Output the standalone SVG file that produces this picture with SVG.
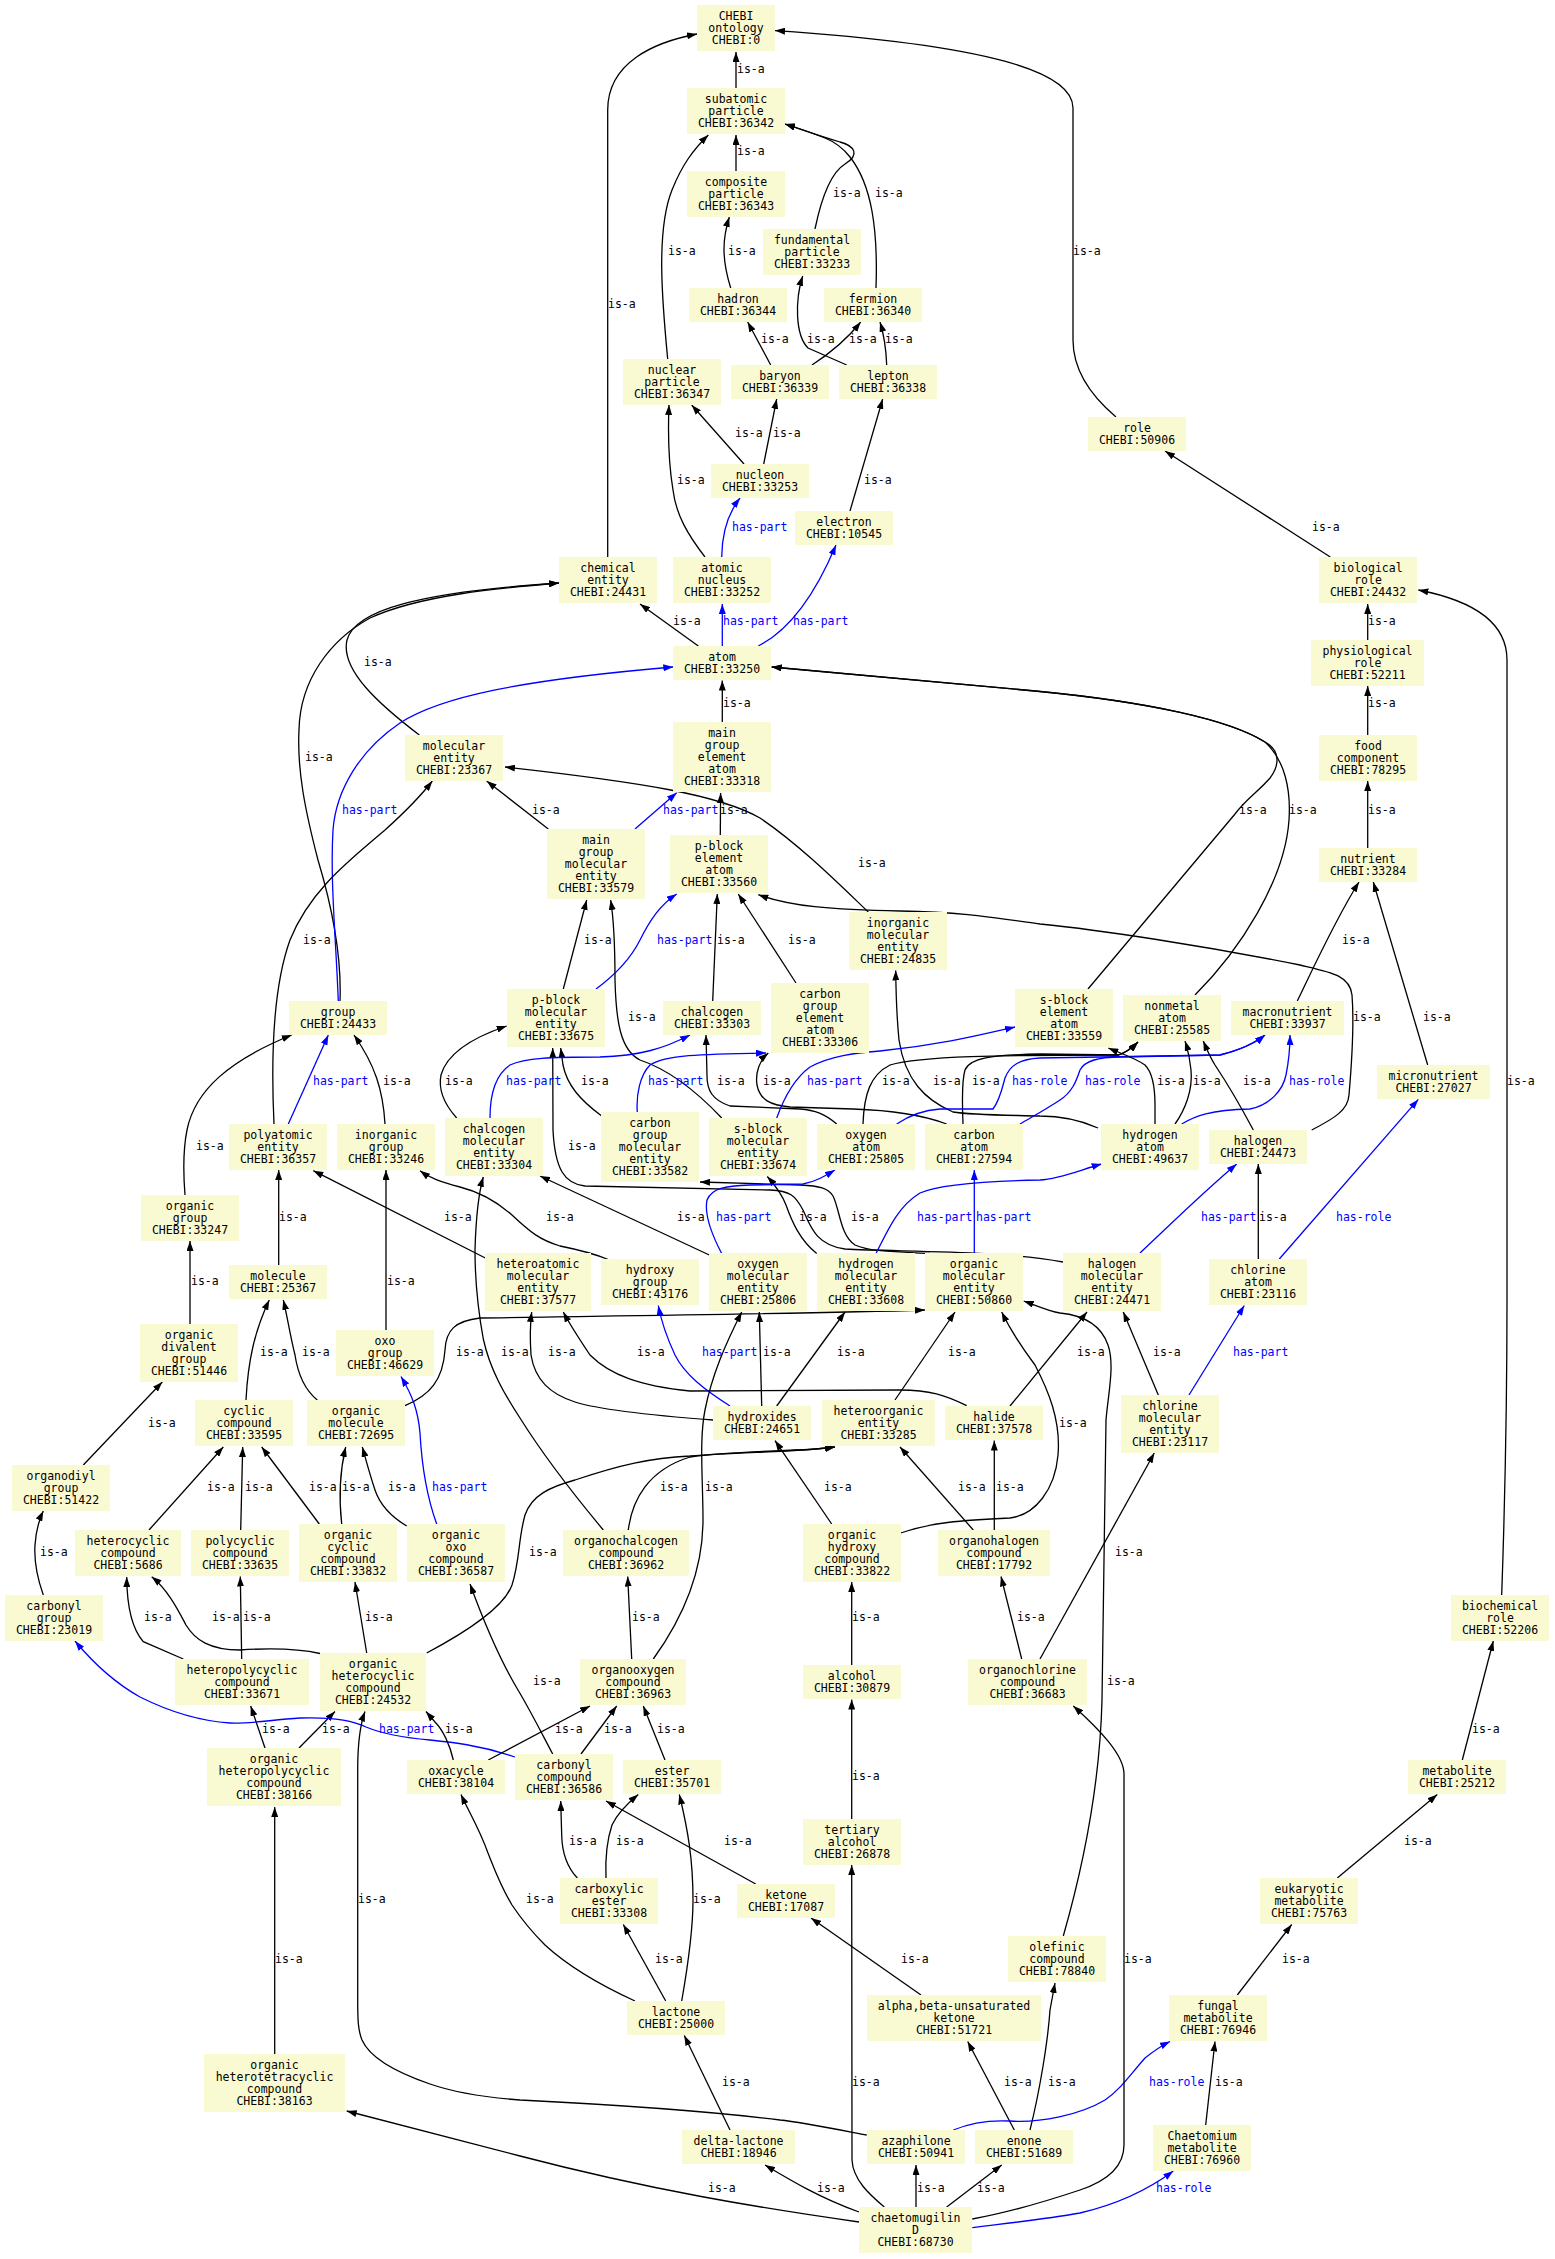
<svg xmlns="http://www.w3.org/2000/svg" width="1555" height="2259" viewBox="0 0 1555 2259">
<style>
.n rect{fill:#fafad2}
.n text{font-family:"DejaVu Sans Mono",monospace;font-size:11.5px;fill:#000;text-anchor:middle}
.e path{fill:none;stroke:#000;stroke-width:1.3;marker-end:url(#a)}
.e path.b{stroke:#00f;marker-end:url(#ab)}
.e text{font-family:"DejaVu Sans Mono",monospace;font-size:11.5px;fill:#000}
.e text.b{fill:#00f}
</style>
<defs>
<marker id="a" viewBox="0 0 10 7" refX="10" refY="3.5" markerWidth="10" markerHeight="7" markerUnits="userSpaceOnUse" orient="auto"><path d="M0,0L10,3.5L0,7z" fill="#000"/></marker>
<marker id="ab" viewBox="0 0 10 7" refX="10" refY="3.5" markerWidth="10" markerHeight="7" markerUnits="userSpaceOnUse" orient="auto"><path d="M0,0L10,3.5L0,7z" fill="#00f"/></marker>
</defs>
<rect width="1555" height="2259" fill="#fff"/>
<g id="connectors" class="e">
<path d="M736,88 L736,52"/>
<path d="M607.7,557 L607.7,110 C607.7,62 655,42 697,34"/>
<path d="M1116,417 C1090,395 1073,370 1073,340 L1073,108 C1073,72 990,45 775,30.6"/>
<path d="M736,171 L736,135"/>
<path d="M667.7,359 C662,300 656,230 672,190 C682,165 693,150 708.3,135"/>
<path d="M815,229 C822,195 832,172 845,164 C860,155 855,146 840,142 C820,136 800,129 785,124"/>
<path d="M876,288 C878,230 872,185 850,157 C843,148 835,142 825,138 C812,133 798,128 785,124"/>
<path d="M730.7,288 C722,260 722,240 729.3,217"/>
<path d="M770.7,365 L747.7,322"/>
<path d="M812,365 C835,350 848,338 860.7,322"/>
<path d="M846.7,365 L808,348 C795,335 795,300 802.7,276"/>
<path d="M886.7,365 C886,345 884,335 880,322"/>
<path d="M744,464 L691.7,405"/>
<path d="M763.7,464 L776.7,399"/>
<path d="M850,511 L882.7,399"/>
<path d="M705,557 C688,535 676,515 673,490 C668,460 668,430 669,405"/>
<path class="b" d="M721.7,557 C722,530 729,512 740,498"/>
<path class="b" d="M758.3,646 C790,630 815,595 836,545"/>
<path class="b" d="M722.3,646 L722.3,604"/>
<path d="M698.3,646 L640,604"/>
<path d="M1330.3,557 L1165,451"/>
<path d="M1367.7,640 L1367.7,604"/>
<path d="M1367.7,735 L1367.7,686"/>
<path d="M1367.7,848 L1367.7,781"/>
<path d="M1297.3,1001 C1310,975 1335,920 1359,882"/>
<path d="M1427.7,1065 L1373.3,882"/>
<path d="M419.3,735 C380,705 340,670 347,640 C355,610 420,592 559,583"/>
<path d="M340,1001 C342,950 330,900 318,860 C305,810 297,770 299,730 C300,680 330,640 370,618 C420,595 500,588 559,583"/>
<path class="b" d="M338.3,1001 C336,940 330,880 333,830 C336,790 360,750 400,723 C440,697 520,680 673.3,667"/>
<path d="M274,1124 C271,1060 272,990 290,940 C310,890 350,860 385,830 C405,812 420,797 432.3,781"/>
<path d="M548.3,829 L486.7,781"/>
<path d="M868.3,912 C840,885 800,845 760,818 C720,795 640,782 505,767"/>
<path d="M722.3,722 L722.3,680.5"/>
<path class="b" d="M635,829 L676.7,792.7"/>
<path d="M720.3,835 L720.6,793"/>
<path d="M1088,989 L1235,814 C1245,800 1260,790 1270,778 C1280,765 1280,750 1265,742 C1230,720 1150,702 1035,691 L771.7,667"/>
<path d="M1195,995 C1240,950 1285,880 1289,820 C1291,790 1285,760 1265,742 C1230,720 1150,702 1035,691 L771.7,667"/>
<path d="M563.3,989 L586.7,900"/>
<path class="b" d="M596,989 C615,975 630,960 640,940 C650,920 660,905 676.7,894"/>
<path d="M712.7,1001 L717.3,894"/>
<path d="M796,983 L738.3,894"/>
<path d="M721.7,1118 C700,1095 670,1070 640,1060 C620,1050 616,1020 615,980 C615,940 613,915 610.7,900"/>
<path d="M1311.7,1130 C1335,1118 1348,1110 1349,1095 C1352,1060 1354,1020 1352,995 C1350,975 1330,972 1300,965 C1200,945 1100,930 1040,924 C990,917 960,912 900,911 C830,910 790,906 758.3,894.7"/>
<path d="M1098,1128 C1080,1120 1060,1116 1040,1116 C1000,1115 970,1115 953,1112 C925,1100 905,1080 899,1040 C897,1020 896,995 895.7,970.5"/>
<path d="M601.7,1116 C580,1100 567,1085 563,1065 L560.7,1048"/>
<path d="M456.7,1118 C445,1105 438,1090 441,1075 C448,1050 480,1035 506.7,1026"/>
<path d="M1063,1262 C1000,1250 900,1252 845,1249 C815,1245 810,1225 803,1210 C795,1195 790,1191 770,1190 L585,1186 C565,1184 555,1170 553,1130 L552.7,1048"/>
<path d="M930,1253.5 C900,1252 870,1252 855,1245 C840,1235 840,1210 833,1196 C828,1188 820,1186 800,1185 L700,1182"/>
<path d="M816.7,1253.5 C800,1240 792,1222 786,1205 C781,1192 774,1184 767.3,1176.5"/>
<path class="b" d="M974.3,1253.5 L974.3,1170"/>
<path class="b" d="M876,1253.5 C890,1225 900,1205 920,1193 C940,1184 990,1181 1040,1180 C1060,1179 1080,1170 1101.7,1164"/>
<path d="M709.3,1255 L540,1176"/>
<path class="b" d="M721.7,1253.5 C712,1235 704,1215 707,1200 C712,1188 725,1186 750,1185 L803,1184 C815,1182 825,1176 835,1170"/>
<path d="M608.3,1259.5 C590,1252 575,1249 560,1246 C540,1240 530,1232 512,1215 C495,1200 480,1192 460,1187 C440,1182 430,1178 420,1170.7"/>
<path d="M485.3,1258 L313.3,1170.7"/>
<path d="M278.7,1265 L278.7,1170"/>
<path d="M185,1195 C183,1170 183,1150 187,1130 C195,1090 230,1060 291.7,1035"/>
<path class="b" d="M288.3,1124 L328.3,1035"/>
<path d="M385,1124 C383,1090 375,1065 354,1035"/>
<path d="M190,1324 L190,1241"/>
<path d="M386,1330 L386,1170"/>
<path d="M603.3,1530 C570,1490 540,1450 520,1418 C505,1395 490,1370 483.3,1339 C478,1310 475,1280 475,1250 C476,1215 478,1195 483.3,1177"/>
<path d="M405,1405.6 C430,1395 443,1380 445,1350 C446,1330 455,1321 480,1318 C600,1316 800,1314 925,1310"/>
<path d="M713.3,1420 C660,1416 600,1410 575,1402 C550,1394 535,1380 531,1355 C530,1340 530,1325 531.7,1312"/>
<path d="M966.7,1405.6 C945,1395 930,1390 900,1390 L690,1391 C640,1386 610,1375 590,1355 C580,1340 570,1325 563.3,1312"/>
<path class="b" d="M730,1406 C705,1390 685,1375 675,1355 C668,1340 662,1325 658.3,1305.5"/>
<path d="M761.7,1406 L759.3,1312"/>
<path d="M776.7,1406 L845,1312"/>
<path d="M895,1400 L955,1312"/>
<path d="M653.3,1659 C685,1615 703,1570 703,1520 C703,1480 699,1440 705,1410 C712,1375 725,1345 741.7,1312"/>
<path d="M900.7,1533 C930,1523 960,1520 1010,1518 C1035,1515 1055,1490 1058,1455 C1061,1420 1048,1390 1035,1365 C1020,1345 1008,1325 1001.7,1312"/>
<path d="M1010,1406 L1087,1312"/>
<path d="M1063.3,1936 C1085,1860 1100,1780 1102,1700 L1106,1420 C1108,1395 1115,1365 1108,1345 C1100,1322 1080,1315 1060,1313 C1048,1311 1035,1305 1023.7,1301"/>
<path d="M1158.3,1395 L1123.3,1312"/>
<path class="b" d="M1189,1395 L1244.3,1305.5"/>
<path d="M1040,1659 L1154.3,1453"/>
<path d="M1258.3,1259 L1258.3,1164"/>
<path class="b" d="M1279.3,1259 L1418.3,1099.4"/>
<path class="b" d="M1140,1253 C1170,1225 1200,1195 1236.7,1164"/>
<path class="b" d="M436.7,1524 C428,1500 422,1470 420,1433 C418,1410 412,1395 401,1376.5"/>
<path d="M246,1400 C248,1360 255,1330 269.3,1300"/>
<path d="M317.3,1400 C305,1390 298,1375 295,1355 C290,1335 287,1315 283.3,1300"/>
<path d="M83.3,1465 L162.3,1382"/>
<path d="M149,1530 L223.3,1447"/>
<path d="M240.7,1530 L242.7,1447"/>
<path d="M319.3,1524 L261.7,1447"/>
<path d="M341.7,1524 C339,1500 339,1475 345.7,1447"/>
<path d="M406.7,1526 C390,1516 380,1505 375,1490 C370,1475 366,1460 362.3,1447"/>
<path d="M628.3,1530 C632,1500 648,1470 690,1457 C740,1450 800,1452 835,1447"/>
<path d="M426.7,1653 C470,1630 505,1605 512,1585 C520,1560 518,1540 525,1515 C532,1495 550,1487 575,1480 C620,1465 650,1458 690,1456 C740,1452 800,1452 835,1447"/>
<path d="M831.7,1524 L775,1440.6"/>
<path d="M973.3,1530 L900,1447"/>
<path d="M994.3,1530 L994.3,1440.6"/>
<path d="M43.3,1595 C38,1580 34,1560 35,1545 C36,1530 39,1520 43.3,1511"/>
<path d="M183.3,1659 L143.3,1641.7 C133,1630 127,1610 126.7,1577"/>
<path d="M241.7,1659 L240.3,1576.5"/>
<path d="M320,1653.5 C300,1649 270,1648 240,1650 C210,1650 195,1640 186,1625 C178,1610 168,1590 151.7,1576.8"/>
<path d="M366.7,1653 L355,1582"/>
<path d="M631.7,1659 L627.7,1576.5"/>
<path d="M851.7,1665 L851.7,1582"/>
<path d="M1021.7,1659 L1001,1576.5"/>
<path d="M552.7,1754 C540,1730 530,1710 518,1690 C500,1660 485,1625 470,1584"/>
<path d="M265,1748 L250.7,1706"/>
<path d="M299,1748 L335,1711.5"/>
<path d="M274.7,2054 L274.7,1807"/>
<path class="b" d="M515,1757 C480,1745 450,1742 430,1740 C395,1737 378,1732 366,1727 C352,1720 330,1717 300,1718 C270,1720 250,1724 230,1723 C200,1721 170,1712 140,1697 C115,1683 95,1665 75,1641"/>
<path d="M453.3,1760 C450,1745 443,1730 435,1722 L426,1711.5"/>
<path d="M488.3,1760 L590,1706"/>
<path d="M581,1754 L616.7,1706"/>
<path d="M665,1760 L643.3,1706"/>
<path d="M577.3,1878 C565,1865 562,1850 561.7,1835 L560.7,1801"/>
<path d="M606,1878 C605,1855 607,1840 612,1825 C618,1812 628,1803 638.3,1794.5"/>
<path d="M755.7,1884 L606,1801"/>
<path d="M635,2001 C600,1985 570,1968 545,1945 C530,1930 522,1920 512,1905 C500,1885 494,1868 488,1853 C480,1830 468,1810 461,1794.5"/>
<path d="M665.7,2001 L623.3,1924.5"/>
<path d="M681.7,2001 C688,1965 693,1930 693,1900 C693,1860 688,1830 679.3,1794.5"/>
<path d="M851.7,1819 L851.7,1699.5"/>
<path d="M921,1995 L811,1918"/>
<path d="M730,2130 L684.3,2035.5"/>
<path d="M884.3,2207 C870,2195 853,2180 852,2160 L851.7,1865"/>
<path d="M1014.3,2130 L967.7,2041.5"/>
<path d="M1030,2130 C1040,2090 1048,2040 1050,2010 L1055,1983"/>
<path d="M866.7,2135 C830,2128 800,2122 780,2120 C700,2110 600,2104 520,2100 C480,2097 450,2091 430,2084 C395,2072 370,2058 362,2040 C358,2030 357.7,2020 357.7,2000 L357.7,1770 C357.7,1745 360,1725 365,1711.5"/>
<path d="M859,2222 C760,2208 650,2190 520,2156 L346.7,2111"/>
<path d="M859,2212 C820,2198 790,2180 765,2165"/>
<path d="M916,2207 L916,2165"/>
<path d="M946.7,2207 L1001.7,2165"/>
<path class="b" d="M953.3,2130 C970,2123 990,2120 1010,2121 C1040,2123 1080,2115 1105,2100 C1120,2090 1130,2075 1145,2058 C1155,2050 1163,2045 1170,2041.5"/>
<path d="M1205.7,2125 L1215,2041.5"/>
<path class="b" d="M972.3,2227.6 C1000,2224 1040,2220 1080,2213 C1110,2206 1145,2192 1173.3,2171"/>
<path d="M972.3,2219 C1000,2214 1035,2205 1080,2190 C1110,2180 1124,2165 1124,2145 L1124,1774 C1124,1755 1100,1730 1073.3,1706"/>
<path d="M1237.3,1995 L1291.7,1924.5"/>
<path d="M1337.3,1878 L1437.3,1794.5"/>
<path d="M1462.3,1760 L1493.3,1641"/>
<path d="M1501.7,1595 C1505,1500 1507,1400 1507,1300 L1507,660 C1507,620 1470,600 1418.3,590"/>
<path d="M836.7,1124 C825,1114 815,1110 800,1109 L730,1106 C712,1100 707,1090 707,1076 L706,1035"/>
<path d="M946.7,1124 C920,1114 885,1110 853,1109 L790,1107 C770,1105 760,1100 757,1085 C755,1072 760,1060 768.3,1053"/>
<path class="b" d="M637.3,1112 C636,1095 640,1075 650,1065 C665,1055 700,1054 766,1053"/>
<path class="b" d="M490,1118 C490,1095 495,1075 510,1065 C525,1058 550,1057 600,1057 C640,1056 665,1048 690,1035"/>
<path class="b" d="M776.7,1118 C785,1095 795,1078 810,1067 C830,1056 855,1053 880,1051 C940,1045 980,1035 1015,1027"/>
<path d="M863,1124 C864,1095 870,1075 890,1065 C920,1056 1000,1055 1118,1055 C1125,1053 1132,1048 1138,1042"/>
<path d="M963,1124 C962,1100 962,1080 965,1070 C970,1058 990,1055 1040,1054 L1118,1055 C1125,1053 1132,1048 1138,1042"/>
<path class="b" d="M896.7,1124 C910,1115 925,1110 940,1109 L993,1109 C1000,1100 1003,1085 1005,1078 C1010,1065 1020,1059 1040,1058 L1220,1055 C1240,1050 1255,1043 1265,1035"/>
<path class="b" d="M1020,1124 C1030,1118 1045,1110 1060,1100 C1072,1092 1076,1082 1080,1070 C1085,1060 1100,1057 1120,1057 L1220,1055 C1240,1050 1255,1043 1265,1035"/>
<path class="b" d="M1181.7,1124 C1195,1116 1210,1110 1250,1109 C1270,1105 1283,1090 1286,1075 C1289,1060 1290,1048 1290,1035"/>
<path d="M1175,1124 C1185,1110 1193,1090 1191,1070 C1190,1058 1188,1050 1185,1041"/>
<path d="M1155,1124 L1155,1105 C1155,1085 1152,1072 1145,1065 C1135,1058 1120,1053 1108.3,1048"/>
<path d="M1253.3,1130 C1240,1105 1225,1080 1215,1065 C1210,1057 1207,1050 1203.3,1041"/>
<g id="edge-labels">
<text x="737" y="73">is-a</text>
<text x="608" y="308">is-a</text>
<text x="1073" y="255">is-a</text>
<text x="737" y="155">is-a</text>
<text x="668" y="255">is-a</text>
<text x="833" y="197">is-a</text>
<text x="875" y="197">is-a</text>
<text x="728" y="255">is-a</text>
<text x="761" y="343">is-a</text>
<text x="849" y="343">is-a</text>
<text x="807" y="343">is-a</text>
<text x="885" y="343">is-a</text>
<text x="735" y="437">is-a</text>
<text x="773" y="437">is-a</text>
<text x="864" y="484">is-a</text>
<text x="677" y="484">is-a</text>
<text class="b" x="732" y="531">has-part</text>
<text class="b" x="793" y="625">has-part</text>
<text class="b" x="723" y="625">has-part</text>
<text x="673" y="625">is-a</text>
<text x="1312" y="531">is-a</text>
<text x="1368" y="625">is-a</text>
<text x="1368" y="707">is-a</text>
<text x="1368" y="814">is-a</text>
<text x="1342" y="944">is-a</text>
<text x="1423" y="1021">is-a</text>
<text x="364" y="666">is-a</text>
<text x="305" y="761">is-a</text>
<text class="b" x="342" y="814">has-part</text>
<text x="303" y="944">is-a</text>
<text x="532" y="814">is-a</text>
<text x="858" y="867">is-a</text>
<text x="723" y="707">is-a</text>
<text class="b" x="663" y="814">has-part</text>
<text x="720" y="814">is-a</text>
<text x="1239" y="814">is-a</text>
<text x="1289" y="814">is-a</text>
<text x="584" y="944">is-a</text>
<text class="b" x="657" y="944">has-part</text>
<text x="717" y="944">is-a</text>
<text x="788" y="944">is-a</text>
<text x="628" y="1021">is-a</text>
<text x="1353" y="1021">is-a</text>
<text x="933" y="1085">is-a</text>
<text x="581" y="1085">is-a</text>
<text x="445" y="1085">is-a</text>
<text x="568" y="1150">is-a</text>
<text x="851" y="1221">is-a</text>
<text x="799" y="1221">is-a</text>
<text class="b" x="976" y="1221">has-part</text>
<text class="b" x="917" y="1221">has-part</text>
<text x="677" y="1221">is-a</text>
<text class="b" x="716" y="1221">has-part</text>
<text x="546" y="1221">is-a</text>
<text x="444" y="1221">is-a</text>
<text x="279" y="1221">is-a</text>
<text x="196" y="1150">is-a</text>
<text class="b" x="313" y="1085">has-part</text>
<text x="383" y="1085">is-a</text>
<text x="191" y="1285">is-a</text>
<text x="387" y="1285">is-a</text>
<text x="501" y="1356">is-a</text>
<text x="456" y="1356">is-a</text>
<text x="548" y="1356">is-a</text>
<text x="637" y="1356">is-a</text>
<text class="b" x="702" y="1356">has-part</text>
<text x="763" y="1356">is-a</text>
<text x="837" y="1356">is-a</text>
<text x="948" y="1356">is-a</text>
<text x="705" y="1491">is-a</text>
<text x="1059" y="1427">is-a</text>
<text x="1077" y="1356">is-a</text>
<text x="1107" y="1685">is-a</text>
<text x="1153" y="1356">is-a</text>
<text class="b" x="1233" y="1356">has-part</text>
<text x="1115" y="1556">is-a</text>
<text x="1259" y="1221">is-a</text>
<text class="b" x="1336" y="1221">has-role</text>
<text class="b" x="1201" y="1221">has-part</text>
<text class="b" x="432" y="1491">has-part</text>
<text x="260" y="1356">is-a</text>
<text x="302" y="1356">is-a</text>
<text x="148" y="1427">is-a</text>
<text x="207" y="1491">is-a</text>
<text x="245" y="1491">is-a</text>
<text x="309" y="1491">is-a</text>
<text x="342" y="1491">is-a</text>
<text x="388" y="1491">is-a</text>
<text x="660" y="1491">is-a</text>
<text x="529" y="1556">is-a</text>
<text x="824" y="1491">is-a</text>
<text x="958" y="1491">is-a</text>
<text x="996" y="1491">is-a</text>
<text x="40" y="1556">is-a</text>
<text x="144" y="1621">is-a</text>
<text x="243" y="1621">is-a</text>
<text x="212" y="1621">is-a</text>
<text x="365" y="1621">is-a</text>
<text x="632" y="1621">is-a</text>
<text x="852" y="1621">is-a</text>
<text x="1017" y="1621">is-a</text>
<text x="533" y="1685">is-a</text>
<text x="262" y="1733">is-a</text>
<text x="322" y="1733">is-a</text>
<text x="275" y="1963">is-a</text>
<text class="b" x="379" y="1733">has-part</text>
<text x="445" y="1733">is-a</text>
<text x="555" y="1733">is-a</text>
<text x="604" y="1733">is-a</text>
<text x="657" y="1733">is-a</text>
<text x="569" y="1845">is-a</text>
<text x="616" y="1845">is-a</text>
<text x="724" y="1845">is-a</text>
<text x="526" y="1903">is-a</text>
<text x="655" y="1963">is-a</text>
<text x="693" y="1903">is-a</text>
<text x="852" y="1780">is-a</text>
<text x="901" y="1963">is-a</text>
<text x="722" y="2086">is-a</text>
<text x="852" y="2086">is-a</text>
<text x="1004" y="2086">is-a</text>
<text x="1048" y="2086">is-a</text>
<text x="358" y="1903">is-a</text>
<text x="708" y="2192">is-a</text>
<text x="817" y="2192">is-a</text>
<text x="917" y="2192">is-a</text>
<text x="977" y="2192">is-a</text>
<text class="b" x="1149" y="2086">has-role</text>
<text x="1215" y="2086">is-a</text>
<text class="b" x="1156" y="2192">has-role</text>
<text x="1124" y="1963">is-a</text>
<text x="1282" y="1963">is-a</text>
<text x="1404" y="1845">is-a</text>
<text x="1472" y="1733">is-a</text>
<text x="1507" y="1085">is-a</text>
<text x="717" y="1085">is-a</text>
<text x="763" y="1085">is-a</text>
<text class="b" x="648" y="1085">has-part</text>
<text class="b" x="506" y="1085">has-part</text>
<text class="b" x="807" y="1085">has-part</text>
<text x="882" y="1085">is-a</text>
<text x="972" y="1085">is-a</text>
<text class="b" x="1012" y="1085">has-role</text>
<text class="b" x="1085" y="1085">has-role</text>
<text class="b" x="1289" y="1085">has-role</text>
<text x="1193" y="1085">is-a</text>
<text x="1157" y="1085">is-a</text>
<text x="1243" y="1085">is-a</text>
</g>
</g>
<g id="nodes">
<g id="n-0" class="n"><rect x="697" y="5" width="78" height="46"/><text><tspan x="736" y="20">CHEBI</tspan><tspan x="736" y="32">ontology</tspan><tspan x="736" y="44">CHEBI:0</tspan></text></g>
<g id="n-36342" class="n"><rect x="687" y="88" width="98" height="46"/><text><tspan x="736" y="103">subatomic</tspan><tspan x="736" y="115">particle</tspan><tspan x="736" y="127">CHEBI:36342</tspan></text></g>
<g id="n-36343" class="n"><rect x="687" y="171" width="98" height="46"/><text><tspan x="736" y="186">composite</tspan><tspan x="736" y="198">particle</tspan><tspan x="736" y="210">CHEBI:36343</tspan></text></g>
<g id="n-33233" class="n"><rect x="763" y="229" width="98" height="46"/><text><tspan x="812" y="244">fundamental</tspan><tspan x="812" y="256">particle</tspan><tspan x="812" y="268">CHEBI:33233</tspan></text></g>
<g id="n-36344" class="n"><rect x="689" y="288" width="98" height="34"/><text><tspan x="738" y="303">hadron</tspan><tspan x="738" y="315">CHEBI:36344</tspan></text></g>
<g id="n-36340" class="n"><rect x="824" y="288" width="98" height="34"/><text><tspan x="873" y="303">fermion</tspan><tspan x="873" y="315">CHEBI:36340</tspan></text></g>
<g id="n-36347" class="n"><rect x="623" y="359" width="98" height="46"/><text><tspan x="672" y="374">nuclear</tspan><tspan x="672" y="386">particle</tspan><tspan x="672" y="398">CHEBI:36347</tspan></text></g>
<g id="n-36339" class="n"><rect x="731" y="365" width="98" height="34"/><text><tspan x="780" y="380">baryon</tspan><tspan x="780" y="392">CHEBI:36339</tspan></text></g>
<g id="n-36338" class="n"><rect x="839" y="365" width="98" height="34"/><text><tspan x="888" y="380">lepton</tspan><tspan x="888" y="392">CHEBI:36338</tspan></text></g>
<g id="n-50906" class="n"><rect x="1088" y="417" width="98" height="34"/><text><tspan x="1137" y="432">role</tspan><tspan x="1137" y="444">CHEBI:50906</tspan></text></g>
<g id="n-33253" class="n"><rect x="711" y="464" width="98" height="34"/><text><tspan x="760" y="479">nucleon</tspan><tspan x="760" y="491">CHEBI:33253</tspan></text></g>
<g id="n-10545" class="n"><rect x="795" y="511" width="98" height="34"/><text><tspan x="844" y="526">electron</tspan><tspan x="844" y="538">CHEBI:10545</tspan></text></g>
<g id="n-24431" class="n"><rect x="559" y="557" width="98" height="46"/><text><tspan x="608" y="572">chemical</tspan><tspan x="608" y="584">entity</tspan><tspan x="608" y="596">CHEBI:24431</tspan></text></g>
<g id="n-33252" class="n"><rect x="673" y="557" width="98" height="46"/><text><tspan x="722" y="572">atomic</tspan><tspan x="722" y="584">nucleus</tspan><tspan x="722" y="596">CHEBI:33252</tspan></text></g>
<g id="n-24432" class="n"><rect x="1319" y="557" width="98" height="46"/><text><tspan x="1368" y="572">biological</tspan><tspan x="1368" y="584">role</tspan><tspan x="1368" y="596">CHEBI:24432</tspan></text></g>
<g id="n-33250" class="n"><rect x="673" y="646" width="98" height="34"/><text><tspan x="722" y="661">atom</tspan><tspan x="722" y="673">CHEBI:33250</tspan></text></g>
<g id="n-52211" class="n"><rect x="1311" y="640" width="113" height="46"/><text><tspan x="1367.5" y="655">physiological</tspan><tspan x="1367.5" y="667">role</tspan><tspan x="1367.5" y="679">CHEBI:52211</tspan></text></g>
<g id="n-23367" class="n"><rect x="405" y="735" width="98" height="46"/><text><tspan x="454" y="750">molecular</tspan><tspan x="454" y="762">entity</tspan><tspan x="454" y="774">CHEBI:23367</tspan></text></g>
<g id="n-33318" class="n"><rect x="673" y="722" width="98" height="70"/><text><tspan x="722" y="737">main</tspan><tspan x="722" y="749">group</tspan><tspan x="722" y="761">element</tspan><tspan x="722" y="773">atom</tspan><tspan x="722" y="785">CHEBI:33318</tspan></text></g>
<g id="n-78295" class="n"><rect x="1319" y="735" width="98" height="46"/><text><tspan x="1368" y="750">food</tspan><tspan x="1368" y="762">component</tspan><tspan x="1368" y="774">CHEBI:78295</tspan></text></g>
<g id="n-33579" class="n"><rect x="547" y="829" width="98" height="70"/><text><tspan x="596" y="844">main</tspan><tspan x="596" y="856">group</tspan><tspan x="596" y="868">molecular</tspan><tspan x="596" y="880">entity</tspan><tspan x="596" y="892">CHEBI:33579</tspan></text></g>
<g id="n-33560" class="n"><rect x="670" y="835" width="98" height="58"/><text><tspan x="719" y="850">p-block</tspan><tspan x="719" y="862">element</tspan><tspan x="719" y="874">atom</tspan><tspan x="719" y="886">CHEBI:33560</tspan></text></g>
<g id="n-33284" class="n"><rect x="1319" y="848" width="98" height="34"/><text><tspan x="1368" y="863">nutrient</tspan><tspan x="1368" y="875">CHEBI:33284</tspan></text></g>
<g id="n-24835" class="n"><rect x="849" y="912" width="98" height="58"/><text><tspan x="898" y="927">inorganic</tspan><tspan x="898" y="939">molecular</tspan><tspan x="898" y="951">entity</tspan><tspan x="898" y="963">CHEBI:24835</tspan></text></g>
<g id="n-24433" class="n"><rect x="289" y="1001" width="98" height="34"/><text><tspan x="338" y="1016">group</tspan><tspan x="338" y="1028">CHEBI:24433</tspan></text></g>
<g id="n-33675" class="n"><rect x="507" y="989" width="98" height="58"/><text><tspan x="556" y="1004">p-block</tspan><tspan x="556" y="1016">molecular</tspan><tspan x="556" y="1028">entity</tspan><tspan x="556" y="1040">CHEBI:33675</tspan></text></g>
<g id="n-33303" class="n"><rect x="663" y="1001" width="98" height="34"/><text><tspan x="712" y="1016">chalcogen</tspan><tspan x="712" y="1028">CHEBI:33303</tspan></text></g>
<g id="n-33306" class="n"><rect x="771" y="983" width="98" height="70"/><text><tspan x="820" y="998">carbon</tspan><tspan x="820" y="1010">group</tspan><tspan x="820" y="1022">element</tspan><tspan x="820" y="1034">atom</tspan><tspan x="820" y="1046">CHEBI:33306</tspan></text></g>
<g id="n-33559" class="n"><rect x="1015" y="989" width="98" height="58"/><text><tspan x="1064" y="1004">s-block</tspan><tspan x="1064" y="1016">element</tspan><tspan x="1064" y="1028">atom</tspan><tspan x="1064" y="1040">CHEBI:33559</tspan></text></g>
<g id="n-25585" class="n"><rect x="1123" y="995" width="98" height="46"/><text><tspan x="1172" y="1010">nonmetal</tspan><tspan x="1172" y="1022">atom</tspan><tspan x="1172" y="1034">CHEBI:25585</tspan></text></g>
<g id="n-33937" class="n"><rect x="1231" y="1001" width="113" height="34"/><text><tspan x="1287.5" y="1016">macronutrient</tspan><tspan x="1287.5" y="1028">CHEBI:33937</tspan></text></g>
<g id="n-27027" class="n"><rect x="1377" y="1065" width="113" height="34"/><text><tspan x="1433.5" y="1080">micronutrient</tspan><tspan x="1433.5" y="1092">CHEBI:27027</tspan></text></g>
<g id="n-36357" class="n"><rect x="229" y="1124" width="98" height="46"/><text><tspan x="278" y="1139">polyatomic</tspan><tspan x="278" y="1151">entity</tspan><tspan x="278" y="1163">CHEBI:36357</tspan></text></g>
<g id="n-33246" class="n"><rect x="337" y="1124" width="98" height="46"/><text><tspan x="386" y="1139">inorganic</tspan><tspan x="386" y="1151">group</tspan><tspan x="386" y="1163">CHEBI:33246</tspan></text></g>
<g id="n-33304" class="n"><rect x="445" y="1118" width="98" height="58"/><text><tspan x="494" y="1133">chalcogen</tspan><tspan x="494" y="1145">molecular</tspan><tspan x="494" y="1157">entity</tspan><tspan x="494" y="1169">CHEBI:33304</tspan></text></g>
<g id="n-33582" class="n"><rect x="601" y="1112" width="98" height="70"/><text><tspan x="650" y="1127">carbon</tspan><tspan x="650" y="1139">group</tspan><tspan x="650" y="1151">molecular</tspan><tspan x="650" y="1163">entity</tspan><tspan x="650" y="1175">CHEBI:33582</tspan></text></g>
<g id="n-33674" class="n"><rect x="709" y="1118" width="98" height="58"/><text><tspan x="758" y="1133">s-block</tspan><tspan x="758" y="1145">molecular</tspan><tspan x="758" y="1157">entity</tspan><tspan x="758" y="1169">CHEBI:33674</tspan></text></g>
<g id="n-25805" class="n"><rect x="817" y="1124" width="98" height="46"/><text><tspan x="866" y="1139">oxygen</tspan><tspan x="866" y="1151">atom</tspan><tspan x="866" y="1163">CHEBI:25805</tspan></text></g>
<g id="n-27594" class="n"><rect x="925" y="1124" width="98" height="46"/><text><tspan x="974" y="1139">carbon</tspan><tspan x="974" y="1151">atom</tspan><tspan x="974" y="1163">CHEBI:27594</tspan></text></g>
<g id="n-49637" class="n"><rect x="1101" y="1124" width="98" height="46"/><text><tspan x="1150" y="1139">hydrogen</tspan><tspan x="1150" y="1151">atom</tspan><tspan x="1150" y="1163">CHEBI:49637</tspan></text></g>
<g id="n-24473" class="n"><rect x="1209" y="1130" width="98" height="34"/><text><tspan x="1258" y="1145">halogen</tspan><tspan x="1258" y="1157">CHEBI:24473</tspan></text></g>
<g id="n-33247" class="n"><rect x="141" y="1195" width="98" height="46"/><text><tspan x="190" y="1210">organic</tspan><tspan x="190" y="1222">group</tspan><tspan x="190" y="1234">CHEBI:33247</tspan></text></g>
<g id="n-25367" class="n"><rect x="229" y="1265" width="98" height="34"/><text><tspan x="278" y="1280">molecule</tspan><tspan x="278" y="1292">CHEBI:25367</tspan></text></g>
<g id="n-37577" class="n"><rect x="485" y="1253" width="106" height="58"/><text><tspan x="538" y="1268">heteroatomic</tspan><tspan x="538" y="1280">molecular</tspan><tspan x="538" y="1292">entity</tspan><tspan x="538" y="1304">CHEBI:37577</tspan></text></g>
<g id="n-43176" class="n"><rect x="601" y="1259" width="98" height="46"/><text><tspan x="650" y="1274">hydroxy</tspan><tspan x="650" y="1286">group</tspan><tspan x="650" y="1298">CHEBI:43176</tspan></text></g>
<g id="n-25806" class="n"><rect x="709" y="1253" width="98" height="58"/><text><tspan x="758" y="1268">oxygen</tspan><tspan x="758" y="1280">molecular</tspan><tspan x="758" y="1292">entity</tspan><tspan x="758" y="1304">CHEBI:25806</tspan></text></g>
<g id="n-33608" class="n"><rect x="817" y="1253" width="98" height="58"/><text><tspan x="866" y="1268">hydrogen</tspan><tspan x="866" y="1280">molecular</tspan><tspan x="866" y="1292">entity</tspan><tspan x="866" y="1304">CHEBI:33608</tspan></text></g>
<g id="n-50860" class="n"><rect x="925" y="1253" width="98" height="58"/><text><tspan x="974" y="1268">organic</tspan><tspan x="974" y="1280">molecular</tspan><tspan x="974" y="1292">entity</tspan><tspan x="974" y="1304">CHEBI:50860</tspan></text></g>
<g id="n-24471" class="n"><rect x="1063" y="1253" width="98" height="58"/><text><tspan x="1112" y="1268">halogen</tspan><tspan x="1112" y="1280">molecular</tspan><tspan x="1112" y="1292">entity</tspan><tspan x="1112" y="1304">CHEBI:24471</tspan></text></g>
<g id="n-23116" class="n"><rect x="1209" y="1259" width="98" height="46"/><text><tspan x="1258" y="1274">chlorine</tspan><tspan x="1258" y="1286">atom</tspan><tspan x="1258" y="1298">CHEBI:23116</tspan></text></g>
<g id="n-51446" class="n"><rect x="140" y="1324" width="98" height="58"/><text><tspan x="189" y="1339">organic</tspan><tspan x="189" y="1351">divalent</tspan><tspan x="189" y="1363">group</tspan><tspan x="189" y="1375">CHEBI:51446</tspan></text></g>
<g id="n-46629" class="n"><rect x="336" y="1330" width="98" height="46"/><text><tspan x="385" y="1345">oxo</tspan><tspan x="385" y="1357">group</tspan><tspan x="385" y="1369">CHEBI:46629</tspan></text></g>
<g id="n-33595" class="n"><rect x="195" y="1400" width="98" height="46"/><text><tspan x="244" y="1415">cyclic</tspan><tspan x="244" y="1427">compound</tspan><tspan x="244" y="1439">CHEBI:33595</tspan></text></g>
<g id="n-72695" class="n"><rect x="307" y="1400" width="98" height="46"/><text><tspan x="356" y="1415">organic</tspan><tspan x="356" y="1427">molecule</tspan><tspan x="356" y="1439">CHEBI:72695</tspan></text></g>
<g id="n-24651" class="n"><rect x="713" y="1406" width="98" height="34"/><text><tspan x="762" y="1421">hydroxides</tspan><tspan x="762" y="1433">CHEBI:24651</tspan></text></g>
<g id="n-33285" class="n"><rect x="822" y="1400" width="113" height="46"/><text><tspan x="878.5" y="1415">heteroorganic</tspan><tspan x="878.5" y="1427">entity</tspan><tspan x="878.5" y="1439">CHEBI:33285</tspan></text></g>
<g id="n-37578" class="n"><rect x="945" y="1406" width="98" height="34"/><text><tspan x="994" y="1421">halide</tspan><tspan x="994" y="1433">CHEBI:37578</tspan></text></g>
<g id="n-23117" class="n"><rect x="1121" y="1395" width="98" height="58"/><text><tspan x="1170" y="1410">chlorine</tspan><tspan x="1170" y="1422">molecular</tspan><tspan x="1170" y="1434">entity</tspan><tspan x="1170" y="1446">CHEBI:23117</tspan></text></g>
<g id="n-51422" class="n"><rect x="12" y="1465" width="98" height="46"/><text><tspan x="61" y="1480">organodiyl</tspan><tspan x="61" y="1492">group</tspan><tspan x="61" y="1504">CHEBI:51422</tspan></text></g>
<g id="n-5686" class="n"><rect x="75" y="1530" width="106" height="46"/><text><tspan x="128" y="1545">heterocyclic</tspan><tspan x="128" y="1557">compound</tspan><tspan x="128" y="1569">CHEBI:5686</tspan></text></g>
<g id="n-33635" class="n"><rect x="191" y="1530" width="98" height="46"/><text><tspan x="240" y="1545">polycyclic</tspan><tspan x="240" y="1557">compound</tspan><tspan x="240" y="1569">CHEBI:33635</tspan></text></g>
<g id="n-33832" class="n"><rect x="299" y="1524" width="98" height="58"/><text><tspan x="348" y="1539">organic</tspan><tspan x="348" y="1551">cyclic</tspan><tspan x="348" y="1563">compound</tspan><tspan x="348" y="1575">CHEBI:33832</tspan></text></g>
<g id="n-36587" class="n"><rect x="407" y="1524" width="98" height="58"/><text><tspan x="456" y="1539">organic</tspan><tspan x="456" y="1551">oxo</tspan><tspan x="456" y="1563">compound</tspan><tspan x="456" y="1575">CHEBI:36587</tspan></text></g>
<g id="n-36962" class="n"><rect x="563" y="1530" width="126" height="46"/><text><tspan x="626" y="1545">organochalcogen</tspan><tspan x="626" y="1557">compound</tspan><tspan x="626" y="1569">CHEBI:36962</tspan></text></g>
<g id="n-33822" class="n"><rect x="803" y="1524" width="98" height="58"/><text><tspan x="852" y="1539">organic</tspan><tspan x="852" y="1551">hydroxy</tspan><tspan x="852" y="1563">compound</tspan><tspan x="852" y="1575">CHEBI:33822</tspan></text></g>
<g id="n-17792" class="n"><rect x="938" y="1530" width="112" height="46"/><text><tspan x="994" y="1545">organohalogen</tspan><tspan x="994" y="1557">compound</tspan><tspan x="994" y="1569">CHEBI:17792</tspan></text></g>
<g id="n-23019" class="n"><rect x="5" y="1595" width="98" height="46"/><text><tspan x="54" y="1610">carbonyl</tspan><tspan x="54" y="1622">group</tspan><tspan x="54" y="1634">CHEBI:23019</tspan></text></g>
<g id="n-33671" class="n"><rect x="175" y="1659" width="134" height="46"/><text><tspan x="242" y="1674">heteropolycyclic</tspan><tspan x="242" y="1686">compound</tspan><tspan x="242" y="1698">CHEBI:33671</tspan></text></g>
<g id="n-24532" class="n"><rect x="320" y="1653" width="106" height="58"/><text><tspan x="373" y="1668">organic</tspan><tspan x="373" y="1680">heterocyclic</tspan><tspan x="373" y="1692">compound</tspan><tspan x="373" y="1704">CHEBI:24532</tspan></text></g>
<g id="n-36963" class="n"><rect x="580" y="1659" width="106" height="46"/><text><tspan x="633" y="1674">organooxygen</tspan><tspan x="633" y="1686">compound</tspan><tspan x="633" y="1698">CHEBI:36963</tspan></text></g>
<g id="n-30879" class="n"><rect x="803" y="1665" width="98" height="34"/><text><tspan x="852" y="1680">alcohol</tspan><tspan x="852" y="1692">CHEBI:30879</tspan></text></g>
<g id="n-36683" class="n"><rect x="968" y="1659" width="119" height="46"/><text><tspan x="1027.5" y="1674">organochlorine</tspan><tspan x="1027.5" y="1686">compound</tspan><tspan x="1027.5" y="1698">CHEBI:36683</tspan></text></g>
<g id="n-52206" class="n"><rect x="1451" y="1595" width="98" height="46"/><text><tspan x="1500" y="1610">biochemical</tspan><tspan x="1500" y="1622">role</tspan><tspan x="1500" y="1634">CHEBI:52206</tspan></text></g>
<g id="n-38166" class="n"><rect x="207" y="1748" width="134" height="58"/><text><tspan x="274" y="1763">organic</tspan><tspan x="274" y="1775">heteropolycyclic</tspan><tspan x="274" y="1787">compound</tspan><tspan x="274" y="1799">CHEBI:38166</tspan></text></g>
<g id="n-38104" class="n"><rect x="407" y="1760" width="98" height="34"/><text><tspan x="456" y="1775">oxacycle</tspan><tspan x="456" y="1787">CHEBI:38104</tspan></text></g>
<g id="n-36586" class="n"><rect x="515" y="1754" width="98" height="46"/><text><tspan x="564" y="1769">carbonyl</tspan><tspan x="564" y="1781">compound</tspan><tspan x="564" y="1793">CHEBI:36586</tspan></text></g>
<g id="n-35701" class="n"><rect x="623" y="1760" width="98" height="34"/><text><tspan x="672" y="1775">ester</tspan><tspan x="672" y="1787">CHEBI:35701</tspan></text></g>
<g id="n-25212" class="n"><rect x="1408" y="1760" width="98" height="34"/><text><tspan x="1457" y="1775">metabolite</tspan><tspan x="1457" y="1787">CHEBI:25212</tspan></text></g>
<g id="n-26878" class="n"><rect x="803" y="1819" width="98" height="46"/><text><tspan x="852" y="1834">tertiary</tspan><tspan x="852" y="1846">alcohol</tspan><tspan x="852" y="1858">CHEBI:26878</tspan></text></g>
<g id="n-33308" class="n"><rect x="560" y="1878" width="98" height="46"/><text><tspan x="609" y="1893">carboxylic</tspan><tspan x="609" y="1905">ester</tspan><tspan x="609" y="1917">CHEBI:33308</tspan></text></g>
<g id="n-17087" class="n"><rect x="737" y="1884" width="98" height="34"/><text><tspan x="786" y="1899">ketone</tspan><tspan x="786" y="1911">CHEBI:17087</tspan></text></g>
<g id="n-75763" class="n"><rect x="1260" y="1878" width="98" height="46"/><text><tspan x="1309" y="1893">eukaryotic</tspan><tspan x="1309" y="1905">metabolite</tspan><tspan x="1309" y="1917">CHEBI:75763</tspan></text></g>
<g id="n-25000" class="n"><rect x="627" y="2001" width="98" height="34"/><text><tspan x="676" y="2016">lactone</tspan><tspan x="676" y="2028">CHEBI:25000</tspan></text></g>
<g id="n-51721" class="n"><rect x="867" y="1995" width="174" height="46"/><text><tspan x="954" y="2010">alpha,beta-unsaturated</tspan><tspan x="954" y="2022">ketone</tspan><tspan x="954" y="2034">CHEBI:51721</tspan></text></g>
<g id="n-78840" class="n"><rect x="1008" y="1936" width="98" height="46"/><text><tspan x="1057" y="1951">olefinic</tspan><tspan x="1057" y="1963">compound</tspan><tspan x="1057" y="1975">CHEBI:78840</tspan></text></g>
<g id="n-76946" class="n"><rect x="1169" y="1995" width="98" height="46"/><text><tspan x="1218" y="2010">fungal</tspan><tspan x="1218" y="2022">metabolite</tspan><tspan x="1218" y="2034">CHEBI:76946</tspan></text></g>
<g id="n-38163" class="n"><rect x="204" y="2054" width="141" height="58"/><text><tspan x="274.5" y="2069">organic</tspan><tspan x="274.5" y="2081">heterotetracyclic</tspan><tspan x="274.5" y="2093">compound</tspan><tspan x="274.5" y="2105">CHEBI:38163</tspan></text></g>
<g id="n-18946" class="n"><rect x="682" y="2130" width="113" height="34"/><text><tspan x="738.5" y="2145">delta-lactone</tspan><tspan x="738.5" y="2157">CHEBI:18946</tspan></text></g>
<g id="n-50941" class="n"><rect x="867" y="2130" width="98" height="34"/><text><tspan x="916" y="2145">azaphilone</tspan><tspan x="916" y="2157">CHEBI:50941</tspan></text></g>
<g id="n-51689" class="n"><rect x="975" y="2130" width="98" height="34"/><text><tspan x="1024" y="2145">enone</tspan><tspan x="1024" y="2157">CHEBI:51689</tspan></text></g>
<g id="n-76960" class="n"><rect x="1153" y="2125" width="98" height="46"/><text><tspan x="1202" y="2140">Chaetomium</tspan><tspan x="1202" y="2152">metabolite</tspan><tspan x="1202" y="2164">CHEBI:76960</tspan></text></g>
<g id="n-68730" class="n"><rect x="859" y="2207" width="113" height="46"/><text><tspan x="915.5" y="2222">chaetomugilin</tspan><tspan x="915.5" y="2234">D</tspan><tspan x="915.5" y="2246">CHEBI:68730</tspan></text></g>
</g>
</svg>
